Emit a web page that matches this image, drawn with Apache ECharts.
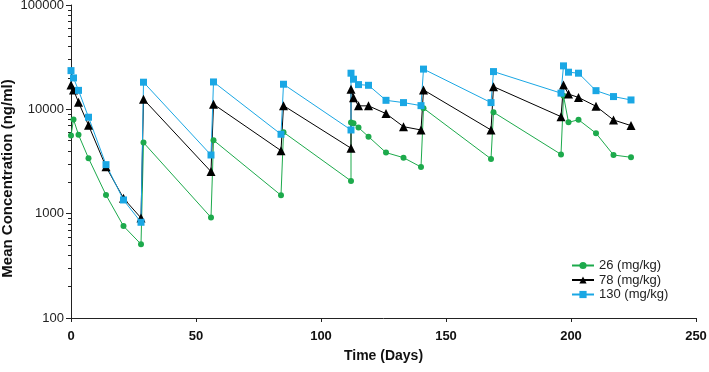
<!DOCTYPE html>
<html>
<head>
<meta charset="utf-8">
<script src="https://cdn.jsdelivr.net/npm/echarts@6/dist/echarts.min.js"></script>
<style>
html,body{margin:0;padding:0;background:#fff;}
#c{width:709px;height:372px;}
</style>
</head>
<body>
<div id="c"></div>
<script>
var seriesNames = ['26 (mg/kg)', '78 (mg/kg)', '130 (mg/kg)'];
var days = [0, 1, 3, 7, 14, 21, 28, 29, 56, 57, 84, 85, 112, 112, 113, 115, 119, 126, 133, 140, 141, 168, 169, 196, 197, 199, 203, 210, 217, 224];
var dose26 = [5600, 8000, 5700, 3400, 1510, 760, 510, 4800, 920, 5060, 1500, 6030, 2060, 7460, 7350, 6680, 5470, 3850, 3440, 2800, 10250, 3350, 9380, 3700, 13500, 7500, 7950, 5900, 3650, 3470];
var dose78 = [17100, 15300, 11700, 7040, 2820, 1405, 910, 12500, 2530, 11200, 4020, 10850, 4240, 15600, 12900, 10800, 10800, 9100, 6820, 6340, 15350, 6340, 16500, 8510, 17100, 14000, 13000, 10700, 7910, 6980];
var dose130 = [23500, 20000, 15200, 8400, 2950, 1353, 827, 18200, 3650, 18300, 5770, 17400, 6340, 22200, 19440, 17260, 17000, 12200, 11600, 10850, 24300, 11600, 23000, 14300, 26100, 22700, 22200, 15100, 13250, 12300];
var xTicks = [0, 50, 100, 150, 200, 250];
var yTicks = [100, 1000, 10000, 100000];
var yMinorTicks = [200, 300, 400, 500, 600, 700, 800, 900, 2000, 3000, 4000, 5000, 6000, 7000, 8000, 9000, 20000, 30000, 40000, 50000, 60000, 70000, 80000, 90000];

function pairs(xs, ys) { return xs.map(function (x, i) { return [x, ys[i]]; }); }

var font = 'Arial, "Liberation Sans", Helvetica, sans-serif';
var chart = echarts.init(document.getElementById('c'), null, {renderer: 'canvas'});
var lineSeries = function (name, data, color, symbol, size) {
  return {
    name: name, type: 'line', data: pairs(days, data),
    symbol: symbol, symbolSize: size, showSymbol: true,
    lineStyle: {color: color, width: 1},
    itemStyle: {color: color},
    emphasis: {disabled: true},
    animation: false, z: 3
  };
};
chart.setOption({
  animation: false,
  backgroundColor: '#fff',
  grid: {left: 71, right: 13, top: 5, bottom: 54, containLabel: false, outerBoundsMode: 'none'},
  legend: {
    data: seriesNames,
    orient: 'vertical',
    left: 566, top: 254,
    itemWidth: 22, itemHeight: 9, itemGap: 1.5,
    textStyle: {fontFamily: font, fontSize: 13, color: '#222'}
  },
  xAxis: {
    type: 'value', min: xTicks[0], max: xTicks[xTicks.length - 1], interval: 50,
    name: 'Time (Days)', nameLocation: 'middle', nameGap: 31, nameMoveOverlap: false,
    nameTextStyle: {fontFamily: font, fontSize: 14, fontWeight: 'bold', color: '#111'},
    axisLine: {show: true, lineStyle: {color: '#222', width: 1}},
    axisTick: {show: true, inside: false, length: 4, lineStyle: {color: '#222'}},
    axisLabel: {fontFamily: font, fontSize: 13, fontWeight: 'bold', color: '#111', margin: 12},
    splitLine: {show: false}
  },
  yAxis: [{
    type: 'log', logBase: 10, min: yTicks[0], max: yTicks[yTicks.length - 1],
    name: 'Mean Concentration (ng/ml)', nameLocation: 'middle', nameGap: 56, nameRotate: 90,
    nameMoveOverlap: false,
    nameTextStyle: {fontFamily: font, fontSize: 15, fontWeight: 'bold', color: '#111', padding: [0, 34, 0, 0]},
    axisLine: {show: true, lineStyle: {color: '#222', width: 1}},
    axisTick: {show: true, inside: false, length: 5, lineStyle: {color: '#222'}},
    axisLabel: {fontFamily: font, fontSize: 13, color: '#222', margin: 7,
      formatter: function (v) { return String(Math.round(v)); }},
    splitLine: {show: false},
    minorTick: {show: false}
  }, {
    type: 'log', logBase: 10, min: yTicks[0], max: yTicks[yTicks.length - 1],
    position: 'left', offset: 0, show: true,
    axisLine: {show: false},
    axisTick: {show: true, inside: false, length: 3, customValues: yMinorTicks, lineStyle: {color: '#222', width: 1}},
    axisLabel: {show: false},
    splitLine: {show: false}
  }],
  series: [
    lineSeries(seriesNames[0], dose26, '#1daa4c', 'circle', 6),
    lineSeries(seriesNames[1], dose78, '#000000', 'triangle', 9),
    lineSeries(seriesNames[2], dose130, '#1aa7e4', 'rect', 7)
  ]
});
</script>
</body>
</html>
